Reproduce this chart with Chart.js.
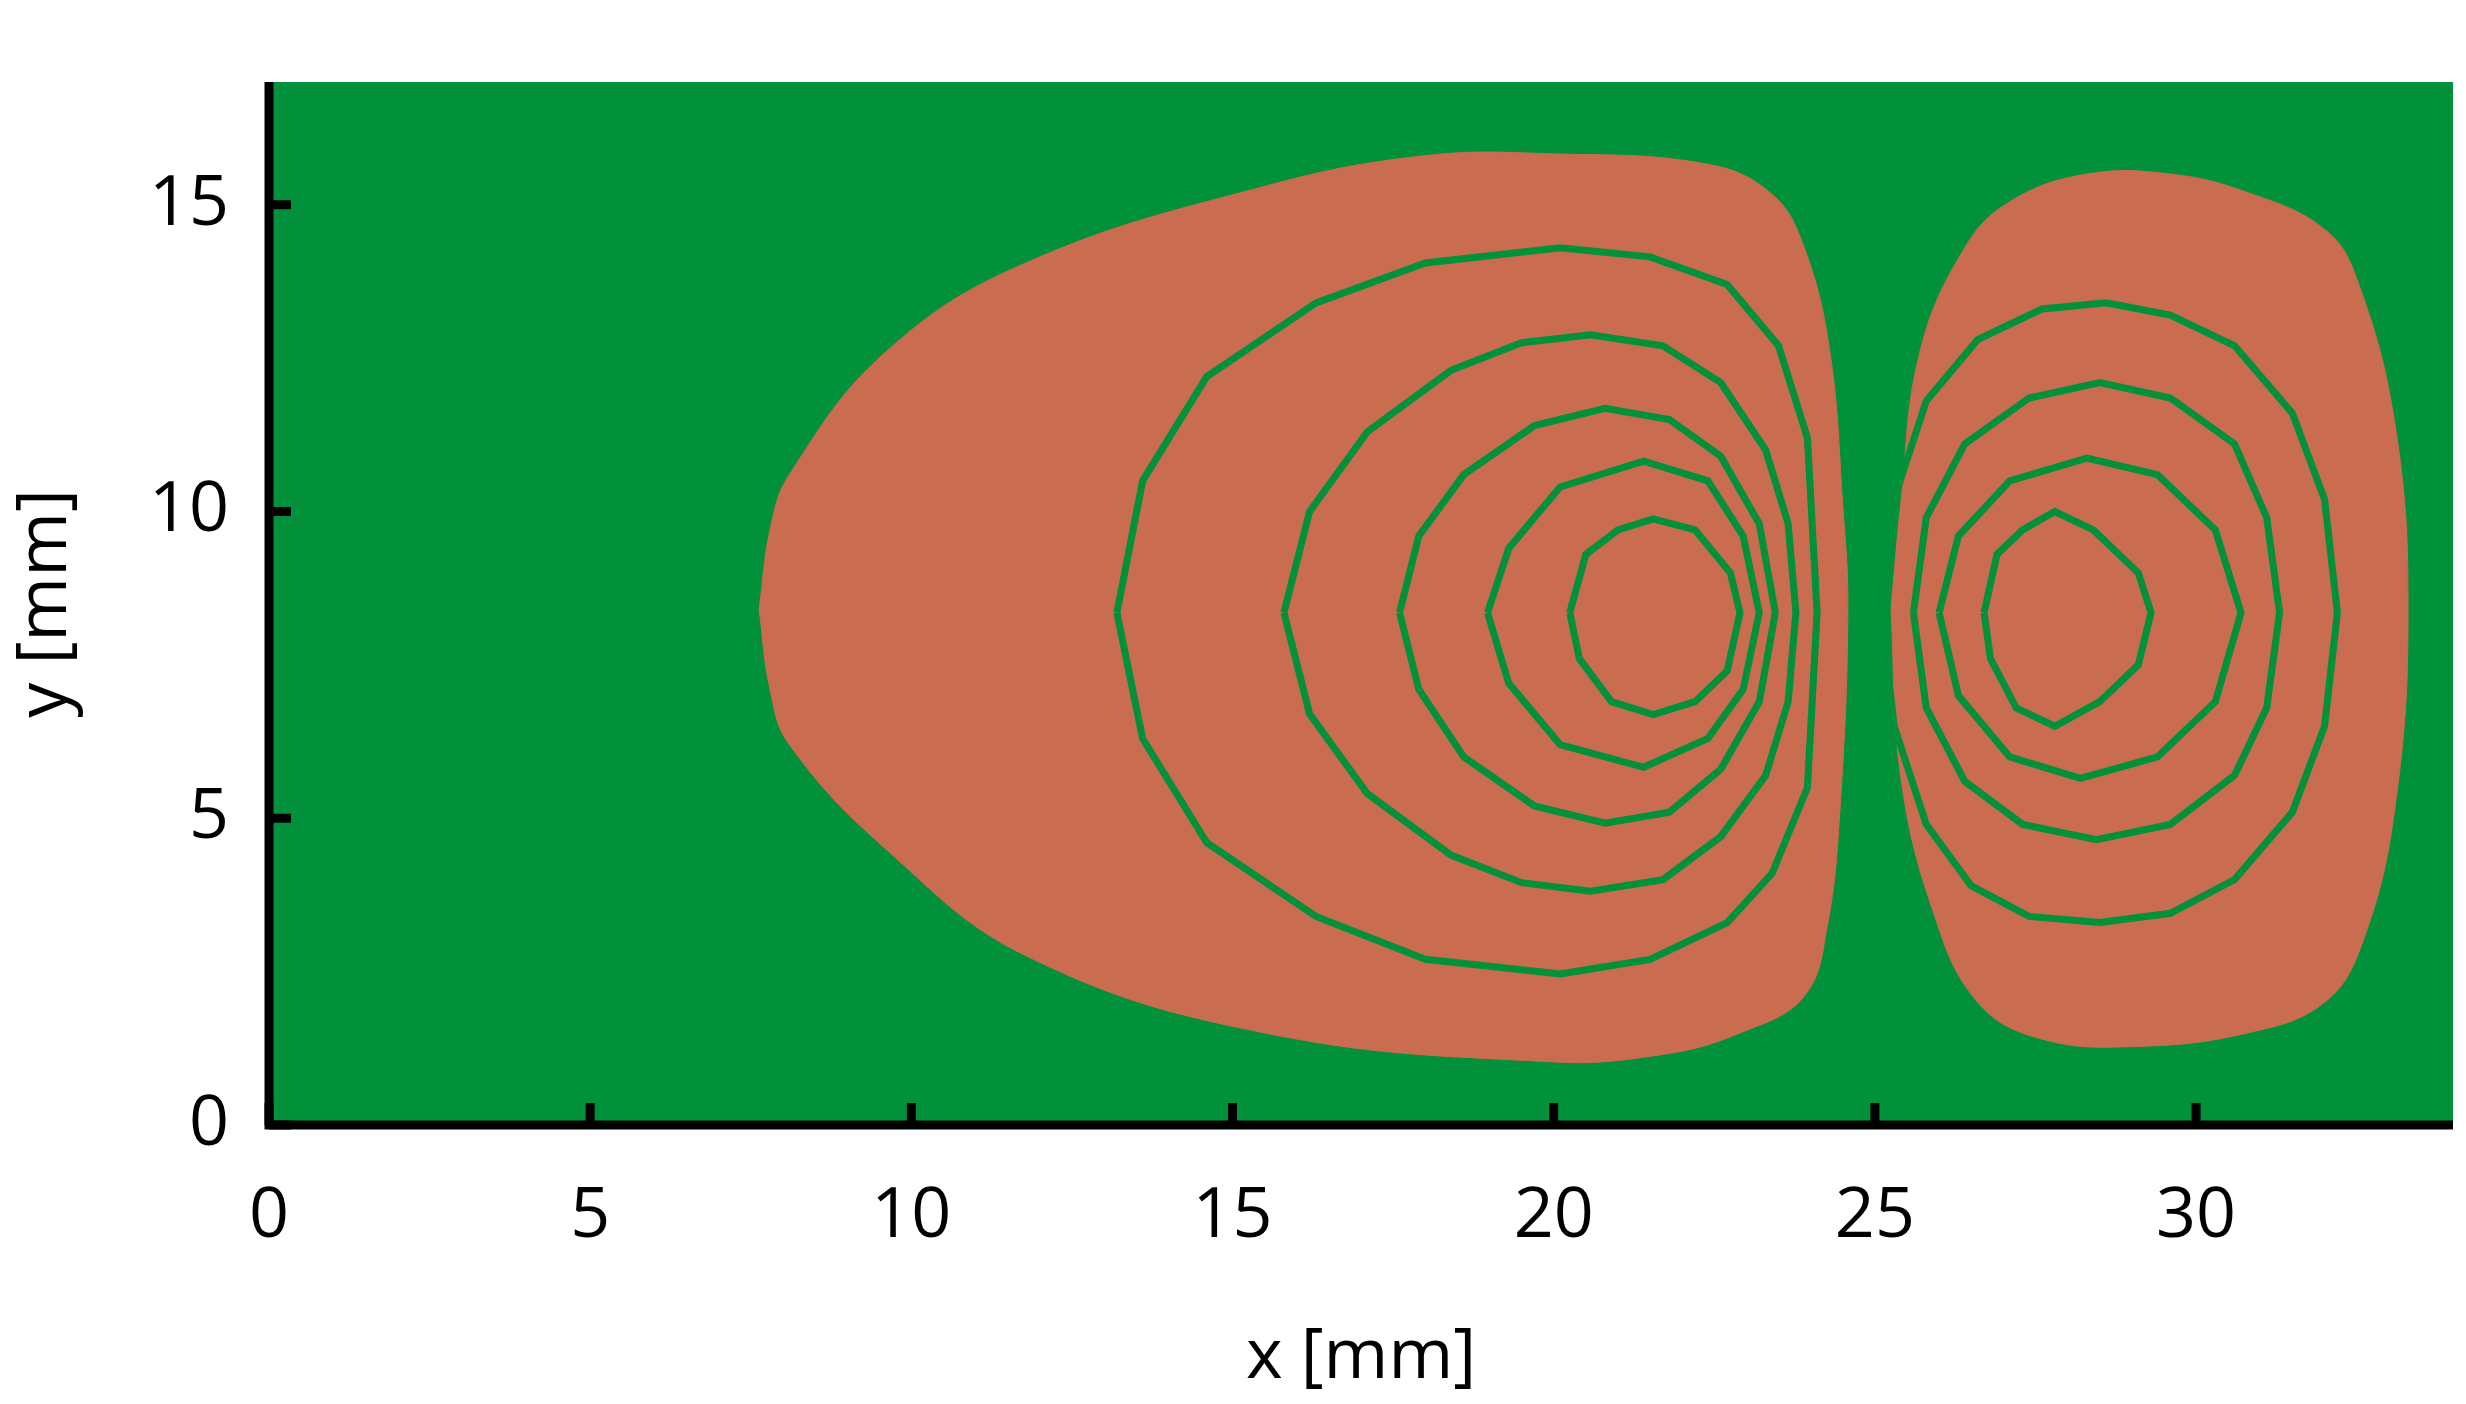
<!DOCTYPE html>
<html>
<head>
<meta charset="utf-8">
<script src="https://cdn.jsdelivr.net/npm/chart.js@4.4.1/dist/chart.umd.min.js"></script>
<style>
  html, body { margin: 0; padding: 0; background: #fff; }
  #wrap { width: 2466px; height: 1404px; }
</style>
</head>
<body>
<div id="wrap"><canvas id="c" width="2466" height="1404"></canvas></div>
<script>
// axis ticks
const xTicks = [0, 5, 10, 15, 20, 25, 30];
const yTicks = [0, 5, 10, 15];

// filled region outlines [x, y] in mm
const blobLeft = [[7.63,8.4],[7.8,9.7],[8.1,10.6],[9.6,12.6],[11.8,14.06],[15.5,15.3],[18,15.8],[19.95,15.83],[22.4,15.66],[23.4,15.17],[23.9,14.3],[24.3,12.6],[24.5,10.1],[24.58,8.4],[24.46,5.2],[24.26,3.25],[23.9,2.1],[22.9,1.5],[21.7,1.15],[19.95,1.03],[15.5,1.5],[11.8,2.75],[9.6,4.5],[8.1,6.2],[7.8,7.1],[7.63,8.4]];
const blobRight = [[25.25,8.4],[25.4,10.1],[25.7,12.6],[26.4,14.3],[27.1,15.05],[28.3,15.5],[29.6,15.5],[30.8,15.2],[32.0,14.6],[32.5,13.8],[33.1,11.4],[33.3,8.4],[33.1,5.2],[32.6,3.0],[32.0,2.0],[30.8,1.5],[29.06,1.28],[27.6,1.4],[26.6,2.0],[25.9,3.5],[25.4,5.7],[25.25,8.4]];

// contour lines
const contourL1 = [[13.2,8.35],[13.6,10.5],[14.6,12.2],[16.3,13.4],[18,14.05],[20.1,14.3],[21.5,14.15],[22.7,13.7],[23.5,12.7],[23.95,11.2],[24.1,8.35],[23.95,5.5],[23.4,4.1],[22.7,3.3],[21.5,2.7],[20.1,2.46],[18,2.7],[16.3,3.4],[14.6,4.6],[13.6,6.3],[13.2,8.35]];
const contourL2 = [[15.8,8.35],[16.2,10.0],[17.1,11.3],[18.4,12.3],[19.5,12.75],[20.57,12.88],[21.7,12.7],[22.6,12.1],[23.3,11.0],[23.65,9.8],[23.77,8.35],[23.65,6.9],[23.3,5.7],[22.6,4.7],[21.7,4.0],[20.57,3.81],[19.5,3.95],[18.4,4.4],[17.1,5.4],[16.2,6.7],[15.8,8.35]];
const contourL3 = [[17.6,8.35],[17.9,9.6],[18.6,10.6],[19.7,11.4],[20.8,11.68],[21.8,11.5],[22.6,10.9],[23.2,9.8],[23.45,8.35],[23.2,6.9],[22.6,5.8],[21.8,5.1],[20.8,4.92],[19.7,5.2],[18.6,6.0],[17.9,7.1],[17.6,8.35]];
const contourL4 = [[18.97,8.35],[19.3,9.4],[20.1,10.4],[21.4,10.82],[22.4,10.5],[22.95,9.6],[23.2,8.35],[22.95,7.1],[22.4,6.3],[21.4,5.83],[20.1,6.2],[19.3,7.2],[18.97,8.35]];
const contourL5 = [[20.25,8.35],[20.5,9.3],[21.0,9.7],[21.55,9.88],[22.2,9.7],[22.75,9.0],[22.9,8.35],[22.7,7.4],[22.2,6.9],[21.55,6.69],[20.9,6.9],[20.4,7.6],[20.25,8.35]];
const contourR1 = [[25.1,8.35],[25.3,10.2],[25.8,11.8],[26.6,12.8],[27.6,13.3],[28.6,13.4],[29.6,13.2],[30.6,12.7],[31.5,11.6],[32.0,10.2],[32.2,8.35],[32.0,6.5],[31.5,5.1],[30.6,4.0],[29.6,3.45],[28.5,3.3],[27.4,3.4],[26.5,3.9],[25.8,4.9],[25.3,6.5],[25.1,8.35]];
const contourR2 = [[25.6,8.35],[25.8,9.9],[26.4,11.1],[27.4,11.85],[28.5,12.1],[29.6,11.85],[30.6,11.1],[31.1,9.9],[31.3,8.35],[31.1,6.8],[30.6,5.7],[29.6,4.9],[28.45,4.65],[27.3,4.9],[26.4,5.6],[25.8,6.8],[25.6,8.35]];
const contourR3 = [[26.0,8.35],[26.3,9.6],[27.1,10.5],[28.3,10.87],[29.4,10.6],[30.3,9.7],[30.7,8.35],[30.3,6.9],[29.4,6.0],[28.2,5.65],[27.1,6.0],[26.3,7.0],[26.0,8.35]];
const contourR4 = [[26.7,8.35],[26.9,9.3],[27.3,9.7],[27.8,10.0],[28.4,9.7],[29.1,9.0],[29.3,8.35],[29.1,7.5],[28.5,6.9],[27.8,6.5],[27.2,6.8],[26.8,7.6],[26.7,8.35]];

const GREEN = '#00913a';
const ORANGE = '#c96c50';
const FONT = '"Open Sans", "Noto Sans", sans-serif';

const pts = arr => arr.map(p => ({ x: p[0], y: p[1] }));

// lower order is drawn on top
function blob(arr) {
    return { data: pts(arr), showLine: true, fill: 'shape', backgroundColor: ORANGE, order: 2,
             borderColor: ORANGE, borderWidth: 1, tension: 0.4, pointRadius: 0 };
}
function contour(arr) {
    return { data: pts(arr), showLine: true, fill: false, borderColor: GREEN, order: 1,
             borderWidth: 7, tension: 0, pointRadius: 0 };
}

// green plot background, axis lines and inward ticks
const bgPlugin = {
    id: 'bg',
    beforeDatasetsDraw(chart) {
        const a = chart.chartArea, ctx = chart.ctx;
        ctx.save();
        ctx.fillStyle = GREEN;
        ctx.fillRect(a.left, a.top, a.right - a.left, a.bottom - a.top);
        ctx.restore();
    },
    afterDraw(chart) {
        const a = chart.chartArea, ctx = chart.ctx;
        ctx.save();
        ctx.strokeStyle = '#000';
        ctx.lineWidth = 9;
        ctx.beginPath();
        ctx.moveTo(a.left, a.top); ctx.lineTo(a.left, a.bottom); ctx.lineTo(a.right, a.bottom);
        ctx.stroke();
        xTicks.forEach(v => {
            const px = chart.scales.x.getPixelForValue(v);
            ctx.beginPath(); ctx.moveTo(px, a.bottom); ctx.lineTo(px, a.bottom - 22); ctx.stroke();
        });
        yTicks.forEach(v => {
            const py = chart.scales.y.getPixelForValue(v);
            ctx.beginPath(); ctx.moveTo(a.left, py); ctx.lineTo(a.left + 22, py); ctx.stroke();
        });
        ctx.restore();
    }
};

new Chart(document.getElementById('c').getContext('2d'), {
    type: 'scatter',
    data: {
        datasets: [
            contour(contourL1), contour(contourL2), contour(contourL3), contour(contourL4), contour(contourL5),
            contour(contourR1), contour(contourR2), contour(contourR3), contour(contourR4),
            blob(blobLeft), blob(blobRight)]
    },
    options: {
        responsive: false,
        animation: false,
        layout: { padding: { top: 0, right: 13, left: 0, bottom: 0 } },
        plugins: { legend: { display: false }, tooltip: { enabled: false } },
        scales: {
            x: {
                type: 'linear', min: 0, max: 34,
                afterBuildTicks: s => { s.ticks = xTicks.map(v => ({ value: v })); },
                afterFit: s => { s.height = 279; },
                grid: { drawOnChartArea: false, drawTicks: false },
                border: { display: false },
                ticks: { color: '#000', padding: 50, font: { family: FONT, size: 70 } },
                title: { display: true, text: 'x [mm]', color: '#000', padding: { top: 0 },
                         font: { family: FONT, size: 70 } }
            },
            y: {
                type: 'linear', min: 0, max: 17,
                afterBuildTicks: s => { s.ticks = yTicks.map(v => ({ value: v })); },
                afterFit: s => { s.width = 269; },
                grid: { drawOnChartArea: false, drawTicks: false },
                border: { display: false },
                ticks: { color: '#000', padding: 40, font: { family: FONT, size: 70 } },
                title: { display: true, text: 'y [mm]', color: '#000', padding: { bottom: 10 },
                         font: { family: FONT, size: 70 } }
            }
        }
    },
    plugins: [bgPlugin]
});
</script>
</body>
</html>
